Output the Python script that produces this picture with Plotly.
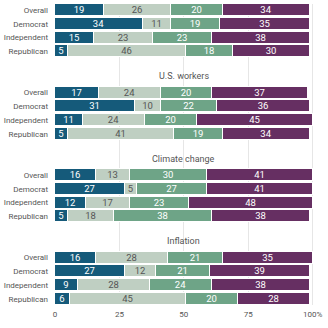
import plotly.graph_objects as go

# Survey groups and topic panels
groups = ["Overall", "Democrat", "Independent", "Republican"]
topics = ["", "U.S. workers", "Climate change", "Inflation"]

# Shares (%) per response category, listed panel by panel, group by group
resp_1 = [19, 34, 15, 5, 17, 31, 11, 5, 16, 27, 12, 5, 16, 27, 9, 6]
resp_2 = [26, 11, 23, 46, 24, 10, 24, 41, 13, 5, 17, 18, 28, 12, 28, 45]
resp_3 = [20, 19, 23, 18, 20, 22, 20, 19, 30, 27, 23, 38, 21, 21, 24, 20]
resp_4 = [34, 35, 38, 30, 37, 36, 45, 34, 41, 41, 48, 38, 35, 39, 38, 28]

x_tickvals = [0, 25, 50, 75, 100]
x_ticktext = ["0", "25", "50", "75", "100%"]

colors = ["#155a7a", "#bfcfc2", "#6ea487", "#662f62"]
text_colors = ["white", "#555555", "white", "white"]

panel_step = 6
ypos = []
ylabels = []
for p in range(len(topics)):
    for g, name in enumerate(groups):
        ypos.append(p * panel_step + g)
        ylabels.append(name)

fig = go.Figure()
for vals, col, tcol in zip([resp_1, resp_2, resp_3, resp_4], colors, text_colors):
    fig.add_trace(go.Bar(
        x=vals, y=ypos, orientation="h",
        marker=dict(color=col, line=dict(color="white", width=1)),
        width=0.88,
        text=vals, textposition="inside", insidetextanchor="middle",
        textangle=0,
        textfont=dict(color=tcol, size=9.5, family="Roboto"),
        constraintext="none",
        hoverinfo="skip",
        showlegend=False,
    ))

for p, t in enumerate(topics):
    if t:
        fig.add_annotation(
            x=50, y=p * panel_step - 1.2, xref="x", yref="y",
            text=t, showarrow=False,
            font=dict(size=9, color="#555555", family="Roboto"),
        )

fig.update_layout(
    barmode="stack",
    width=328, height=328,
    margin=dict(l=55, r=14, t=4, b=23),
    paper_bgcolor="white", plot_bgcolor="white",
    font=dict(family="Roboto", color="#444444"),
    bargap=0,
)
fig.update_xaxes(
    range=[0, 100.5], tickvals=x_tickvals, ticktext=x_ticktext,
    showgrid=True, gridcolor="#e6e6e6", gridwidth=1, zeroline=False,
    tickfont=dict(size=8, color="#555555"), ticks="", fixedrange=True,
    ticklabelstandoff=3, automargin=False,
)
fig.update_yaxes(
    range=[21.45, -0.45], tickvals=ypos, ticktext=ylabels,
    showgrid=False, zeroline=False, ticks="", ticklen=0,
    ticklabelstandoff=6, automargin=False,
    tickfont=dict(size=8, color="#555555"), fixedrange=True,
)

fig.write_html("out.html")
